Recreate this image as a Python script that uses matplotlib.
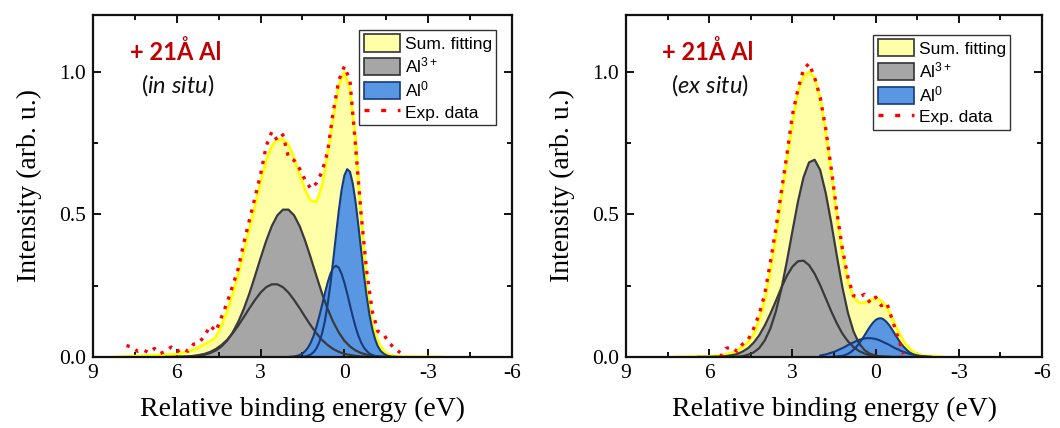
import matplotlib
matplotlib.use("Agg")
import matplotlib.pyplot as plt
from matplotlib.patches import Patch
from matplotlib.lines import Line2D
from matplotlib.ticker import MultipleLocator

plt.rcParams['font.family'] = ['Liberation Serif', 'DejaVu Serif']
plt.rcParams['axes.unicode_minus'] = False
plt.rcParams['mathtext.fontset'] = 'custom'
plt.rcParams['mathtext.rm'] = 'Liberation Sans'
plt.rcParams['mathtext.it'] = 'Lato:italic'

# energy grids (eV)
E_G = [6.4, 6.2, 6.0, 5.8, 5.6, 5.4, 5.2, 5.0, 4.8, 4.6, 4.4, 4.2, 4.0, 3.8, 3.6, 3.4,
       3.2, 3.0, 2.8, 2.6, 2.4, 2.2, 2.0, 1.8, 1.6, 1.4, 1.2, 1.0, 0.8, 0.6, 0.4, 0.2,
       0.0, -0.2, -0.4, -0.6, -0.8, -1.0, -1.2, -1.4, -1.6]
E_B = [2.0, 1.9, 1.8, 1.7, 1.6, 1.5, 1.4, 1.3, 1.2, 1.1, 1.0, 0.9, 0.8, 0.7, 0.6, 0.5,
       0.4, 0.3, 0.2, 0.1, 0.0, -0.1, -0.2, -0.3, -0.4, -0.5, -0.6, -0.7, -0.8, -0.9,
       -1.0, -1.1, -1.2, -1.3, -1.4, -1.5, -1.6, -1.7, -1.8, -1.9, -2.0]

# --- in situ ---
E_SUM1 = [8.2, 6.0, 5.8, 5.6, 5.4, 5.2, 5.0, 4.8, 4.6, 4.4, 4.2, 4.0, 3.8, 3.6, 3.4, 3.2,
          3.0, 2.8, 2.6, 2.4, 2.2, 2.0, 1.8, 1.6, 1.4, 1.2, 1.0, 0.8, 0.6, 0.4, 0.2, 0.0,
          -0.2, -0.4, -0.6, -0.8, -1.0, -1.2, -1.4, -1.6, -1.8, -2.0, -3.5]
SUM1 = [0.0, 0.01, 0.015, 0.02, 0.025, 0.035, 0.045, 0.055, 0.07, 0.11, 0.16, 0.22, 0.29,
        0.37, 0.45, 0.53, 0.615, 0.69, 0.74, 0.762, 0.765, 0.745, 0.70, 0.64, 0.585, 0.548,
        0.545, 0.60, 0.71, 0.84, 0.955, 1.0, 0.94, 0.77, 0.50, 0.25, 0.12, 0.055, 0.022,
        0.008, 0.003, 0.001, 0.0]
AL3_A1 = [0.000, 0.000, 0.000, 0.001, 0.001, 0.002, 0.004, 0.008, 0.014, 0.023, 0.037,
          0.057, 0.086, 0.123, 0.169, 0.223, 0.284, 0.347, 0.407, 0.459, 0.497, 0.517,
          0.517, 0.497, 0.459, 0.407, 0.347, 0.284, 0.223, 0.169, 0.123, 0.086, 0.057,
          0.037, 0.023, 0.014, 0.008, 0.004, 0.002, 0.001, 0.001]
AL3_B1 = [0.000, 0.000, 0.001, 0.001, 0.002, 0.004, 0.007, 0.011, 0.018, 0.028, 0.042,
          0.060, 0.083, 0.110, 0.140, 0.171, 0.200, 0.226, 0.245, 0.255, 0.255, 0.245,
          0.226, 0.200, 0.171, 0.140, 0.110, 0.083, 0.060, 0.042, 0.028, 0.018, 0.011,
          0.007, 0.004, 0.002, 0.001, 0.001, 0.000, 0.000, 0.000]
AL0_A1 = [0.000, 0.000, 0.000, 0.000, 0.000, 0.001, 0.002, 0.005, 0.009, 0.017, 0.030,
          0.051, 0.082, 0.125, 0.184, 0.255, 0.339, 0.427, 0.513, 0.586, 0.637, 0.659,
          0.650, 0.609, 0.544, 0.462, 0.374, 0.288, 0.211, 0.147, 0.098, 0.062, 0.037,
          0.021, 0.012, 0.006, 0.003, 0.001, 0.001, 0.000, 0.000]
AL0_B1 = [0.000, 0.001, 0.002, 0.004, 0.007, 0.012, 0.021, 0.033, 0.051, 0.075, 0.106,
          0.142, 0.182, 0.223, 0.261, 0.292, 0.313, 0.320, 0.313, 0.292, 0.261, 0.223,
          0.182, 0.142, 0.106, 0.075, 0.051, 0.033, 0.021, 0.012, 0.007, 0.004, 0.002,
          0.001, 0.000, 0.000, 0.000, 0.000, 0.000, 0.000, 0.000]
E_EXP1 = [7.8, 7.6, 7.4, 7.2, 7.0, 6.8, 6.6, 6.4, 6.2, 6.0, 5.8, 5.6, 5.4, 5.2, 5.0, 4.8,
          4.6, 4.4, 4.2, 4.0, 3.8, 3.6, 3.4, 3.2, 3.0, 2.8, 2.6, 2.4, 2.2, 2.0, 1.8, 1.6,
          1.4, 1.2, 1.0, 0.8, 0.6, 0.4, 0.2, 0.0, -0.2, -0.4, -0.6, -0.8, -1.0, -1.2,
          -1.4, -1.6, -1.8, -2.0]
EXP1 = [0.04, 0.035, 0.02, 0.025, 0.015, 0.03, 0.012, 0.02, 0.035, 0.018, 0.03, 0.02,
        0.045, 0.05, 0.075, 0.11, 0.09, 0.14, 0.19, 0.25, 0.31, 0.40, 0.48, 0.56, 0.64,
        0.74, 0.79, 0.76, 0.78, 0.70, 0.69, 0.66, 0.62, 0.59, 0.61, 0.65, 0.72, 0.86,
        0.97, 1.02, 0.97, 0.74, 0.50, 0.30, 0.16, 0.09, 0.08, 0.05, 0.03, 0.015]

# --- ex situ ---
E_SUM2 = [7.2, 6.0, 5.8, 5.6, 5.4, 5.2, 5.0, 4.8, 4.6, 4.4, 4.2, 4.0, 3.8, 3.6, 3.4, 3.2,
          3.0, 2.8, 2.6, 2.4, 2.2, 2.0, 1.8, 1.6, 1.4, 1.2, 1.0, 0.8, 0.6, 0.4, 0.2, 0.0,
          -0.2, -0.4, -0.6, -0.8, -1.0, -1.2, -1.4, -1.6, -1.8, -2.0, -2.4]
SUM2 = [0.0, 0.002, 0.004, 0.006, 0.009, 0.014, 0.022, 0.035, 0.052, 0.08, 0.13, 0.20,
        0.30, 0.42, 0.56, 0.69, 0.82, 0.93, 0.985, 1.0, 0.98, 0.91, 0.79, 0.65, 0.50,
        0.37, 0.265, 0.21, 0.19, 0.19, 0.20, 0.205, 0.198, 0.175, 0.135, 0.093, 0.056,
        0.031, 0.016, 0.008, 0.004, 0.003, 0.0]
AL3_A2 = [0.000, 0.000, 0.000, 0.000, 0.000, 0.000, 0.001, 0.001, 0.003, 0.008, 0.016,
          0.031, 0.058, 0.099, 0.159, 0.239, 0.336, 0.442, 0.546, 0.631, 0.683, 0.692,
          0.656, 0.575, 0.470, 0.355, 0.245, 0.155, 0.090, 0.048, 0.024, 0.011, 0.005,
          0.002, 0.001, 0.000, 0.000, 0.000, 0.000, 0.000, 0.000]
AL3_B2 = [0.000, 0.000, 0.000, 0.001, 0.001, 0.003, 0.006, 0.010, 0.019, 0.031, 0.050,
          0.076, 0.110, 0.151, 0.196, 0.243, 0.285, 0.317, 0.336, 0.338, 0.322, 0.292,
          0.252, 0.206, 0.160, 0.118, 0.082, 0.055, 0.035, 0.021, 0.012, 0.006, 0.003,
          0.002, 0.001, 0.000, 0.000, 0.000, 0.000, 0.000, 0.000]
AL0_A2 = [0.000, 0.000, 0.000, 0.000, 0.000, 0.001, 0.002, 0.003, 0.004, 0.007, 0.011,
          0.017, 0.025, 0.035, 0.047, 0.061, 0.076, 0.092, 0.107, 0.120, 0.130, 0.135,
          0.136, 0.131, 0.122, 0.110, 0.095, 0.079, 0.064, 0.049, 0.037, 0.027, 0.018,
          0.012, 0.008, 0.005, 0.003, 0.002, 0.001, 0.001, 0.000]
AL0_B2 = [0.005, 0.007, 0.009, 0.012, 0.015, 0.018, 0.022, 0.027, 0.031, 0.036, 0.042,
          0.047, 0.051, 0.056, 0.060, 0.063, 0.065, 0.066, 0.066, 0.065, 0.063, 0.060,
          0.056, 0.051, 0.047, 0.042, 0.036, 0.031, 0.027, 0.022, 0.018, 0.015, 0.012,
          0.009, 0.007, 0.005, 0.004, 0.003, 0.002, 0.001, 0.001]
E_EXP2 = [5.6, 5.4, 5.2, 5.0, 4.8, 4.6, 4.4, 4.2, 4.0, 3.8, 3.6, 3.4, 3.2, 3.0, 2.8, 2.6,
          2.4, 2.2, 2.0, 1.8, 1.6, 1.4, 1.2, 1.0, 0.8, 0.6, 0.4, 0.2, 0.0, -0.2, -0.4,
          -0.6, -0.8, -1.0]
EXP2 = [0.0, 0.03, 0.035, 0.02, 0.045, 0.06, 0.10, 0.15, 0.22, 0.33, 0.45, 0.58, 0.71,
        0.85, 0.94, 1.01, 1.03, 0.98, 0.91, 0.80, 0.66, 0.51, 0.38, 0.28, 0.215, 0.21,
        0.22, 0.19, 0.21, 0.18, 0.19, 0.13, 0.07, 0.01]

XTICKS = [9, 6, 3, 0, -3, -6]
YTICKS = [0.0, 0.5, 1.0]

SUM_FILL = '#FFFFA8'
SUM_LINE = '#FFFF00'
GRAY_FILL = '#A6A6A6'
GRAY_LINE = '#3A3A3A'
BLUE_FILL = '#5A97E2'
BLUE_LINE = '#173A7A'
EXP_RED = '#FF0000'

fig = plt.figure(figsize=(10.6, 4.28), dpi=100)
ax1 = fig.add_axes([0.0877, 0.1659, 0.3953, 0.7991])
ax2 = fig.add_axes([0.5906, 0.1659, 0.3925, 0.7991])

panels = [
    (ax1, E_SUM1, SUM1, AL3_A1, AL3_B1, AL0_A1, AL0_B1, E_EXP1, EXP1, 'in\\ situ', (0.962, 0.956)),
    (ax2, E_SUM2, SUM2, AL3_A2, AL3_B2, AL0_A2, AL0_B2, E_EXP2, EXP2, 'ex\\ situ', (0.923, 0.942)),
]

for ax, es, s, ga, gb, ba, bb, ex, exv, tag, leg_at in panels:
    ax.fill_between(es, s, color=SUM_FILL, lw=0)
    ax.plot(es, s, color=SUM_LINE, lw=2)
    ax.fill_between(E_G, ga, color=GRAY_FILL, lw=0)
    ax.fill_between(E_G, gb, color=GRAY_FILL, lw=0)
    ax.plot(E_G, ga, color=GRAY_LINE, lw=1.6)
    ax.plot(E_G, gb, color=GRAY_LINE, lw=1.6)
    ax.fill_between(E_B, ba, color=BLUE_FILL, lw=0)
    ax.fill_between(E_B, bb, color=BLUE_FILL, lw=0)
    ax.plot(E_B, ba, color=BLUE_LINE, lw=1.5)
    ax.plot(E_B, bb, color=BLUE_LINE, lw=1.5)
    ax.plot(ex, exv, color=EXP_RED, lw=2.4, ls=(0, (1, 2)))

    ax.set_xlim(9, -6)
    ax.set_ylim(0, 1.2)
    ax.set_xticks(XTICKS)
    ax.set_xticklabels([str(t) for t in XTICKS])
    ax.set_yticks(YTICKS)
    ax.set_yticklabels(['%.1f' % t for t in YTICKS])
    ax.xaxis.set_minor_locator(MultipleLocator(1.5))
    ax.yaxis.set_minor_locator(MultipleLocator(0.25))
    ax.tick_params(which='both', direction='in', top=True, right=True, width=1.4,
                   color='#111111')
    ax.tick_params(which='major', length=6, labelsize=15.5, pad=5)
    ax.tick_params(which='minor', length=3.5)
    for sp in ax.spines.values():
        sp.set_linewidth(1.6)
        sp.set_color('#111111')
    ax.set_xlabel('Relative binding energy (eV)', fontsize=20, labelpad=10)
    ax.set_ylabel('Intensity (arb. u.)', fontsize=20, labelpad=12)

    ax.text(0.197, 0.892, '+ 21Å Al', transform=ax.transAxes, ha='center', va='center',
            family='Lato', fontweight='bold', fontsize=17, color='#C00000')
    ax.text(0.202, 0.795, '($\\mathit{' + tag + '}$)', transform=ax.transAxes,
            ha='center', va='center', family='Lato', fontsize=17, color='#111111')

    handles = [
        Patch(facecolor=SUM_FILL, edgecolor='#333333', lw=1.2),
        Patch(facecolor=GRAY_FILL, edgecolor='#333333', lw=1.2),
        Patch(facecolor=BLUE_FILL, edgecolor=BLUE_LINE, lw=1.2),
        Line2D([], [], color=EXP_RED, lw=2.4, ls=(0, (1.5, 3.5))),
    ]
    labels = ['Sum. fitting', 'Al$^{3+}$', 'Al$^{0}$', 'Exp. data']
    leg = ax.legend(handles, labels, loc='upper right', bbox_to_anchor=leg_at,
                    borderaxespad=0, prop={'family': 'Liberation Sans', 'size': 12.5},
                    handlelength=2.1, handleheight=1.15, handletextpad=0.25,
                    labelspacing=0.22, borderpad=0.25, fancybox=False, framealpha=1)
    leg.get_frame().set_edgecolor('#333333')
    leg.get_frame().set_linewidth(1.0)

fig.savefig('out.png', dpi=100)
